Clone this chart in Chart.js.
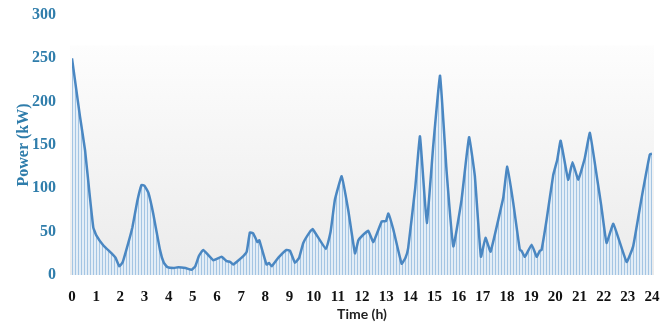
<!DOCTYPE html>
<html>
<head>
<meta charset="utf-8">
<script src="https://cdn.jsdelivr.net/npm/chart.js@4/dist/chart.umd.min.js"></script>
<style>
  html, body { margin: 0; padding: 0; background: #ffffff; }
  #wrap { width: 672px; height: 329px; }
</style>
</head>
<body>
<div id="wrap"><canvas id="c" width="672" height="329"></canvas></div>
<script>
// Load profile over one day: time of day (h) and power (kW)
const timeHours = [
  0, 0.33, 0.54, 0.74, 0.88, 1.0, 1.3, 1.64, 1.8, 1.96, 2.1, 2.33, 2.5, 2.7, 2.88, 3.0, 3.16, 3.36, 3.64, 3.8, 3.95,
  4.2, 4.4, 4.7, 4.95, 5.1, 5.25, 5.43, 5.85, 6.19, 6.4, 6.55, 6.67, 7.02, 7.23, 7.36, 7.5, 7.67, 7.75, 8.05, 8.15,
  8.26, 8.54, 8.88, 9.02, 9.23, 9.4, 9.57, 9.85, 9.96, 10.51, 10.7, 10.88, 11.16, 11.43, 11.71, 11.85, 12.0, 12.26,
  12.47, 12.82, 12.99, 13.09, 13.3, 13.64, 13.8, 13.91, 14.2, 14.4, 14.68, 14.95, 15.23, 15.5, 15.78, 16.12, 16.43,
  16.67, 16.92, 17.11, 17.32, 17.78, 17.85, 18.01, 18.26, 18.53, 18.6, 18.74, 19.02, 19.23, 19.36, 19.43, 19.64,
  19.91, 20.08, 20.22, 20.53, 20.71, 20.95, 21.22, 21.43, 21.71, 21.9, 22.12, 22.4, 22.95, 23.22, 23.57, 23.91, 24
];
const powerKW = [
  250, 183, 144, 90, 55, 46, 34, 25, 20, 10, 15, 37, 55, 85, 104, 103, 95, 71, 29, 14, 9,
  8, 9, 8, 6, 10, 22, 29, 17, 21, 16, 15, 12, 20, 27, 49, 48, 38, 40, 12, 14,
  10, 20, 29, 28, 14, 20, 37, 50, 53, 30, 50, 87, 114, 75, 25, 40, 45, 51,
  38, 62, 62, 71, 52, 13, 20, 31, 100, 160, 60, 150, 230, 120, 33, 87, 159,
  114, 21, 43, 27, 81, 90, 125, 83, 29, 28, 21, 35, 21, 28, 29, 64,
  115, 133, 155, 110, 130, 110, 135, 164, 115, 80, 37, 59, 15, 33, 89, 139, 140
];
const hourTicks = [0,1,2,3,4,5,6,7,8,9,10,11,12,13,14,15,16,17,18,19,20,21,22,23,24];
const powerTicks = [0, 50, 100, 150, 200, 250, 300];

const points = timeHours.map((t, i) => ({ x: t, y: powerKW[i] }));

// Vertical hatch used under the curve
function makeStripes(ctx) {
  const p = document.createElement('canvas');
  p.width = 3; p.height = 4;
  const g = p.getContext('2d');
  g.fillStyle = 'rgba(226,237,247,0.9)';
  g.fillRect(0, 0, 3, 4);
  g.fillStyle = 'rgba(160,195,226,0.95)';
  g.fillRect(0, 0, 1, 4);
  return ctx.createPattern(p, 'repeat');
}

// Soft grey panel behind the plot
const panelBackground = {
  id: 'panelBackground',
  beforeDatasetsDraw(chart) {
    const { ctx, scales: { x, y } } = chart;
    const left = x.getPixelForValue(0) - 2;
    const right = x.getPixelForValue(24) + 2;
    const top = y.getPixelForValue(265);
    const bottom = y.getPixelForValue(0);
    const grad = ctx.createLinearGradient(0, top, 0, bottom);
    grad.addColorStop(0, '#fdfdfd');
    grad.addColorStop(1, '#ebebeb');
    ctx.save();
    ctx.fillStyle = grad;
    ctx.fillRect(left, top, right - left, bottom - top);
    ctx.restore();
  }
};

const ctx = document.getElementById('c').getContext('2d');
const axisBlue = '#2f7dab';

new Chart(ctx, {
  type: 'line',
  data: {
    datasets: [{
      data: points,
      borderColor: '#4a87c2',
      borderWidth: 2.5,
      pointRadius: 0,
      tension: 0.1,
      fill: 'origin',
      backgroundColor: makeStripes(ctx)
    }]
  },
  options: {
    responsive: false,
    animation: false,
    layout: { padding: { left: 0, right: 20, top: 15, bottom: 0 } },
    plugins: { legend: { display: false }, tooltip: { enabled: false } },
    scales: {
      x: {
        type: 'linear',
        min: 0, max: 24,
        grid: { display: false, drawTicks: false },
        border: { display: false },
        afterBuildTicks: s => { s.ticks = hourTicks.map(v => ({ value: v })); },
        afterFit: s => { s.height = 54; s.paddingLeft = 0; s.paddingRight = 0; },
        ticks: {
          padding: 13,
          color: '#111111',
          font: { family: '"Liberation Serif", "Times New Roman", serif', size: 15, weight: 'bold' },
          maxRotation: 0, autoSkip: false
        },
        title: {
          display: true, text: 'Time (h)', color: '#222222',
          font: { family: 'Lato, "Liberation Sans", sans-serif', size: 14, weight: 'bold' },
          padding: { top: 0, bottom: 6 }
        }
      },
      y: {
        min: 0, max: 300,
        grid: { display: false, drawTicks: false },
        border: { display: false },
        afterBuildTicks: s => { s.ticks = powerTicks.map(v => ({ value: v })); },
        afterFit: s => { s.width = 72; s.paddingTop = 0; s.paddingBottom = 0; },
        ticks: {
          padding: 16,
          color: axisBlue,
          font: { family: '"Liberation Serif", "Times New Roman", serif', size: 16, weight: 'bold' }
        },
        title: {
          display: true, text: 'Power (kW)', color: axisBlue,
          font: { family: '"Liberation Serif", "Times New Roman", serif', size: 16, weight: 'bold' },
          padding: { top: 14, bottom: 0 }
        }
      }
    }
  },
  plugins: [panelBackground]
});
</script>
</body>
</html>
